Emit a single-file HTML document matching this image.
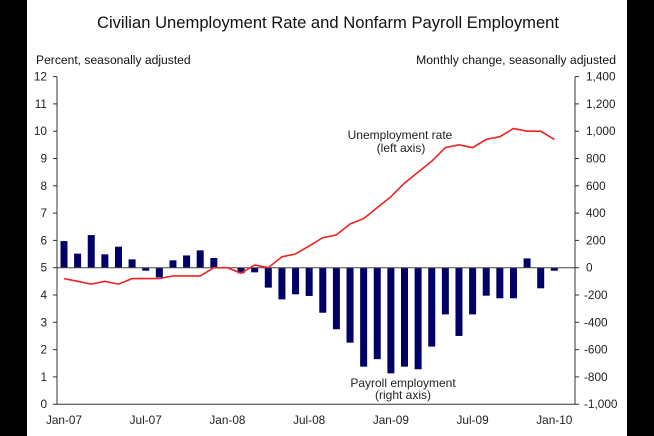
<!DOCTYPE html>
<html><head><meta charset="utf-8"><style>
html,body{margin:0;padding:0;background:#000;}
svg{display:block;font-family:"Liberation Sans",Arial,sans-serif;}
</style></head><body>
<svg id="s" width="654" height="436" xmlns="http://www.w3.org/2000/svg">
<rect x="0" y="0" width="654" height="436" fill="#000"/>
<rect x="27" y="0" width="600" height="436" fill="#fff"/>
<text x="328" y="28" text-anchor="middle" font-size="16.6" fill="#111">Civilian Unemployment Rate and Nonfarm Payroll Employment</text>
<text x="36" y="64" font-size="12.1" fill="#111">Percent, seasonally adjusted</text>
<text x="616" y="64" text-anchor="end" font-size="12.2" fill="#111">Monthly change, seasonally adjusted</text>
<g id="g"></g>
<text x="400" y="139" text-anchor="middle" font-size="12" fill="#222">Unemployment rate</text>
<text x="401" y="152" text-anchor="middle" font-size="12" fill="#222">(left axis)</text>
<text x="403" y="387" text-anchor="middle" font-size="12" fill="#222">Payroll employment</text>
<text x="403" y="399" text-anchor="middle" font-size="12" fill="#222">(right axis)</text>
</svg>
<script>
var g=document.getElementById('g'),h='';
var L=57,R=575,T=76.6,B=404.2,u=27.3,z=267.7;
function X(k){return 64+13.62*k;}
var bars=[195,103,239,98,154,61,-22,-71,54,90,127,71,-5,-41,-34,-146,-232,-195,-207,-330,-451,-549,-725,-670,-774,-725,-744,-578,-342,-500,-342,-205,-224,-224,68,-151,-22];
var rate=[4.6,4.5,4.4,4.5,4.4,4.6,4.6,4.6,4.7,4.7,4.7,5.0,5.0,4.8,5.1,5.0,5.4,5.5,5.8,6.1,6.2,6.6,6.8,7.2,7.6,8.1,8.5,8.9,9.4,9.5,9.4,9.7,9.8,10.1,10.0,10.0,9.7];
var pxk=u/200;
bars.forEach(function(v,k){var hgt=Math.abs(v)*pxk;var y=v>0?z-hgt:z;h+='<rect x="'+(X(k)-3.5)+'" y="'+y+'" width="7" height="'+hgt+'" fill="#000066"/>';});
h+='<line x1="'+L+'" y1="'+z+'" x2="'+R+'" y2="'+z+'" stroke="#444" stroke-width="1"/>';
h+='<polyline fill="none" stroke="#ee2222" stroke-width="1.6" points="'+rate.map(function(r,k){return X(k)+','+(z-(r-5)*u).toFixed(1);}).join(' ')+'"/>';
h+='<line x1="'+L+'" y1="'+T+'" x2="'+L+'" y2="'+B+'" stroke="#333"/><line x1="'+R+'" y1="'+T+'" x2="'+R+'" y2="'+B+'" stroke="#333"/><line x1="'+L+'" y1="'+B+'" x2="'+R+'" y2="'+B+'" stroke="#333"/>';
for(var i=0;i<=12;i++){var y=B-i*u;h+='<line x1="'+(L-4)+'" y1="'+y+'" x2="'+L+'" y2="'+y+'" stroke="#333"/><text x="47" y="'+(y+4)+'" text-anchor="end" font-size="11.8" fill="#222">'+i+'</text>';}
for(var j=0;j<=12;j++){var v=-1000+200*j;var y=B-j*(B-T)/12;var a=Math.abs(v);var s=a>=1000?Math.floor(a/1000)+','+('00'+a%1000).slice(-3):String(a);if(v<0)s='-'+s;h+='<line x1="'+R+'" y1="'+y+'" x2="'+(R+4)+'" y2="'+y+'" stroke="#333"/><text x="'+(v<0?584:586)+'" y="'+(y+4)+'" font-size="11.8" fill="#222">'+s+'</text>';}
var labs=['Jan-07','Jul-07','Jan-08','Jul-08','Jan-09','Jul-09','Jan-10'];
labs.forEach(function(t,i){h+='<text x="'+X(i*6)+'" y="424" text-anchor="middle" font-size="11.8" fill="#222">'+t+'</text>';});
g.innerHTML=h;
</script>
</body></html>
